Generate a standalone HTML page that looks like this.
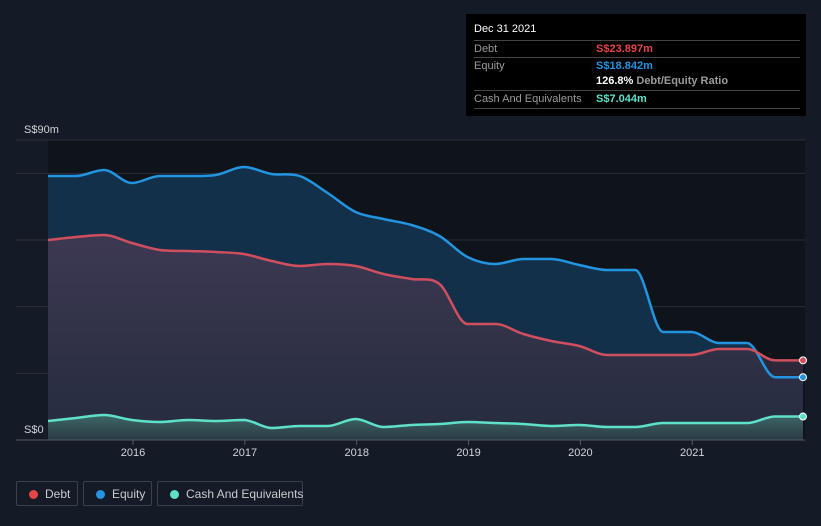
<!DOCTYPE html>
<html><head><meta charset="utf-8"><style>
body{margin:0;background:#151b26;width:821px;height:526px;overflow:hidden;font-family:"Liberation Sans",sans-serif}
svg{position:absolute;left:0;top:0}
.tip{position:absolute;left:466px;top:14px;width:340px;height:102px;background:#000;color:#fff;font-size:11px}
.row{position:absolute;left:8px;width:326px;border-top:1px solid #444;height:17px;line-height:17px}
.lab{position:absolute;left:0;color:#9a9a9a}
.val{position:absolute;left:122px;font-weight:bold}
.leg{position:absolute;top:481px;height:25px;border:1px solid #3a404c;border-radius:2px;color:#c8cbd0;font-size:12px;line-height:25px;box-sizing:border-box;white-space:nowrap}
.dot{position:absolute;left:12px;top:8px;width:9px;height:9px;border-radius:50%}
</style></head><body>
<svg id="chart" width="821" height="526"></svg>
<div class="tip">
 <div style="position:absolute;left:8px;top:9px;font-size:11px">Dec 31 2021</div>
 <div class="row" style="top:26px"><span class="lab">Debt</span><span class="val" style="color:#e64545">S$23.897m</span></div>
 <div class="row" style="top:43px"><span class="lab">Equity</span><span class="val" style="color:#2394df">S$18.842m</span></div>
 <div class="row" style="top:59px;border-top:none"><span class="val" style="color:#fff">126.8% <span style="color:#9a9a9a">Debt/Equity Ratio</span></span></div>
 <div class="row" style="top:76px;border-bottom:1px solid #444"><span class="lab">Cash And Equivalents</span><span class="val" style="color:#5fe0c8">S$7.044m</span></div>
</div>
<div class="leg" style="left:16px;width:62px"><span class="dot" style="background:#e64545"></span><span style="position:absolute;left:28px">Debt</span></div>
<div class="leg" style="left:83px;width:69px"><span class="dot" style="background:#2394df"></span><span style="position:absolute;left:28px">Equity</span></div>
<div class="leg" style="left:157px;width:146px"><span class="dot" style="background:#5fe0c8"></span><span style="position:absolute;left:28px">Cash And Equivalents</span></div>
<script>
const startYear = 2015.24, endYear = 2021.99;
const equity = [79.2,79.2,81,77.1,79.2,79.2,79.5,81.9,79.8,79.2,74.1,68.4,66.3,64.5,61.2,54.9,52.8,54.3,54.3,52.5,51,51,32.4,32.4,29.1,29.1,18.842,18.842];
const debt = [60,60.9,61.5,59.1,57,56.7,56.4,55.8,53.7,52.2,52.8,52.2,49.8,48.3,46.8,34.8,34.8,31.8,29.7,28.2,25.5,25.5,25.5,25.5,27.3,27.3,23.897,23.897];
const cash = [5.7,6.6,7.5,6,5.4,6,5.7,6,3.6,4.2,4.2,6.3,3.9,4.5,4.8,5.4,5.1,4.8,4.2,4.5,3.9,3.9,5.1,5.1,5.1,5.1,7.044,7.044];
const xTicks = [2016,2017,2018,2019,2020,2021];
const yGrid = [20,40,60,80,90];
const NS='http://www.w3.org/2000/svg';
const svg=document.getElementById('chart');
const X0=48,X1=803,Y0=440,YMAX=90,YTOP=140;
const xs=y=>X0+(y-startYear)/(endYear-startYear)*(X1-X0);
const ys=v=>Y0-v/YMAX*(Y0-YTOP);
const n=equity.length;
const xi=i=>xs(startYear+i*(endYear-startYear)/(n-1));
function mk(t,a){const e=document.createElementNS(NS,t);for(const k in a)e.setAttribute(k,a[k]);svg.appendChild(e);return e;}
svg.innerHTML='<defs><linearGradient id="gd" x1="0" y1="0" x2="0" y2="1"><stop offset="0" stop-color="#4a3b55" stop-opacity="0.85"/><stop offset="1" stop-color="#2c2a3a" stop-opacity="0.8"/></linearGradient><linearGradient id="gc" x1="0" y1="0" x2="0" y2="1"><stop offset="0" stop-color="#3f6e6a"/><stop offset="1" stop-color="#2b3a44"/></linearGradient></defs>';
const bg=mk('rect',{x:X0,y:YTOP,width:805-X0,height:Y0-YTOP,fill:'#0f131a'});


for(const g of yGrid){const l=mk('line',{x1:16,x2:805,y1:ys(g),y2:ys(g),stroke:'#2a2f38','stroke-width':1});

}
function path(vals){const p=vals.map((v,i)=>[xi(i),ys(v)]);const m=[];const N=p.length;const d=[];for(let i=0;i<N-1;i++)d.push((p[i+1][1]-p[i][1])/(p[i+1][0]-p[i][0]));
for(let i=0;i<N;i++){if(i==0)m.push(d[0]);else if(i==N-1)m.push(d[N-2]);else m.push(d[i-1]*d[i]<=0?0:(d[i-1]+d[i])/2);}
let s='M'+p[0][0]+','+p[0][1];for(let i=0;i<N-1;i++){const h=(p[i+1][0]-p[i][0])/3;s+=` C${p[i][0]+h},${p[i][1]+m[i]*h} ${p[i+1][0]-h},${p[i+1][1]-m[i+1]*h} ${p[i+1][0]},${p[i+1][1]}`;}return s;}
function area(vals){return path(vals)+` L${xi(n-1)},${Y0} L${xi(0)},${Y0} Z`;}
const series=[[equity,'#14324d','#2394df','equity'],[debt,'url(#gd)','#d04f5e','debt'],[cash,'url(#gc)','#5fe0c8','cash']];
for(const [vals,fill,col,name] of series){const a=mk('path',{d:area(vals),fill:fill,'fill-opacity':name==='equity'?0.95:0.9});

}
for(const [vals,fill,col,name] of series){const l=mk('path',{d:path(vals),fill:'none',stroke:col,'stroke-width':2.5});


const c=mk('circle',{cx:xi(n-1),cy:ys(vals[n-1]),r:3.5,fill:col,stroke:'#fff','stroke-width':1});

}
const ax=mk('line',{x1:16,x2:805,y1:Y0,y2:Y0,stroke:'#555a63','stroke-width':1});


for(const t of xTicks){const x=xs(t);const tk=mk('line',{x1:x,x2:x,y1:Y0,y2:Y0+5,stroke:'#555a63'});


const tx=mk('text',{x:x,y:Y0+16,'text-anchor':'middle',fill:'#d0d3d8','font-size':11,'font-family':'Liberation Sans, sans-serif'});tx.textContent=t;

}
const t1=mk('text',{x:24,y:133,fill:'#d0d3d8','font-size':11,'font-family':'Liberation Sans, sans-serif'});t1.textContent='S$90m';


const t2=mk('text',{x:24,y:433,fill:'#d0d3d8','font-size':11,'font-family':'Liberation Sans, sans-serif'});t2.textContent='S$0';


</script>
</body></html>
